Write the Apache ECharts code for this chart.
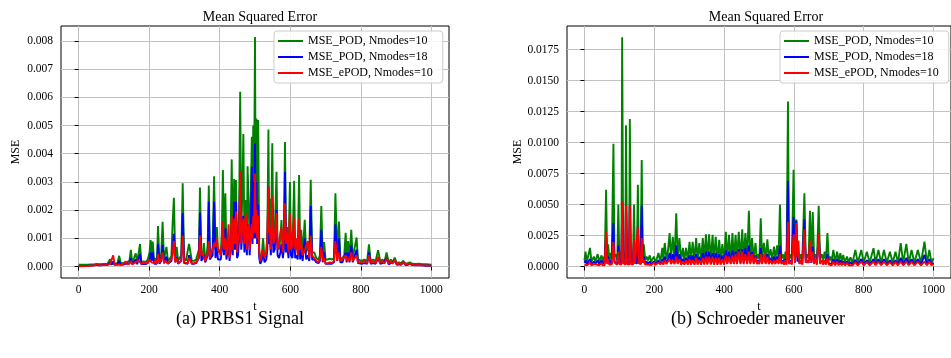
<!DOCTYPE html>
<html>
<head>
<meta charset="utf-8">
<script src="https://cdn.jsdelivr.net/npm/echarts@6/dist/echarts.min.js"></script>
<style>
  html, body { margin: 0; padding: 0; background: #fff; }
  #chart { width: 951px; height: 358px; }
</style>
</head>
<body>
<div id="chart"></div>
<script>
// MSE values are stored in units of 1e-4
const UNIT = 1e-4;

// (a) PRBS1 Signal
const T_A = [0,25,45,52,58,70,82,89,93,98, 102,110,115,119,126,133,138,144,148,152, 157,162,166,170,174,178,184,190,196,201,
  204,207,210,214,218,222,225,229,234,238, 242,246,249,253,258,263,266,270,274,278, 282,287,291,295,299,304,309,313,317,321,
  327,333,338,341,344,348,352,355,359,363, 366,369,372,376,380,384,388,392,395,399, 403,406,409,412,416,419,422,425,428,431,
  434,437,441,443,446,449,452,455,458,461, 464,467,470,474,477,479,482,485,488,491, 493,495,497,500,502,504,506,509,512,515,
  519,523,527,532,535,538,540,542,545,549, 552,556,561,564,568,572,575,579,582,585, 588,591,595,599,602,606,611,614,618,621,
  625,628,631,635,641,645,650,654,658,662, 668,674,680,684,688,692,696,700,706,712, 718,724,728,733,738,742,748,753,757,760,
  764,768,773,777,782,788,792,797,803,810, 818,823,828,835,842,849,855,862,867,873, 879,885,890,896,902,908,914,920,927,933,
  939,946,955,965,975,985,1000];
const POD10_A = [0.7,0.7,0.8,0.9,0.8,0.9,1.0,2.6,1.0,1.5, 1.0,1.2,3.8,1.2,1.3,1.4,1.2,2.0,5.9,1.5, 3.0,4.7,1.5,2.0,8.0,1.5,1.8,1.6,2.5,5.0,
  9.4,4.0,8.9,2.0,3.0,2.0,14.4,2.2,4.0,15.9, 2.5,3.0,7.0,2.0,2.5,3.5,14.0,24.4,3.0,7.0, 2.0,2.5,4.0,29.5,3.0,2.0,2.0,8.0,8.0,2.0,
  2.0,2.5,3.0,6.0,28.0,4.0,3.0,8.3,3.0,4.0, 8.0,28.7,5.0,4.0,7.0,32.0,6.0,14.0,5.0,6.0, 5.0,12.0,34.2,8.0,26.0,5.0,6.0,10.0,4.0,12.0,
  38.0,8.0,31.0,10.0,30.7,6.0,8.0,20.0,62.0,12.0, 25.0,47.0,10.0,23.6,8.0,35.6,22.5,8.0,25.0,46.0, 15.0,50.0,20.0,81.4,20.0,52.5,15.0,52.0,6.0,2.0,
  4.0,10.0,3.0,5.0,12.0,48.6,15.0,24.0,8.0,43.7, 10.0,12.0,33.6,8.0,6.0,10.0,16.5,6.0,12.0,44.2, 10.0,14.0,6.0,30.0,8.0,6.0,30.4,6.0,8.0,5.0,
  32.5,5.0,13.0,4.0,16.6,5.0,8.0,4.0,30.8,5.0, 5.0,3.0,2.5,4.0,21.5,3.0,8.7,2.5,2.5,2.8, 2.5,3.0,26.0,4.0,16.0,3.0,3.0,4.0,12.0,3.0,
  9.0,3.0,13.0,3.0,3.5,10.3,2.5,2.5,2.0,2.5, 2.0,7.9,2.0,2.5,2.0,5.8,2.0,2.5,1.5,5.0, 1.5,2.5,1.5,3.2,1.2,1.5,1.2,2.0,1.0,1.2,
  1.5,1.0,0.9,1.0,0.8,0.8,0.7];
const POD18_A = [0.2,0.3,0.4,0.6,0.4,0.5,0.6,1.5,0.6,1.8, 0.6,0.8,2.0,0.6,0.7,1.0,0.8,1.2,3.0,0.8, 1.5,2.6,0.8,1.2,4.5,0.8,1.0,0.9,1.2,2.5,
  5.0,2.0,5.0,1.0,1.5,1.0,8.0,1.0,2.0,7.7, 1.2,1.5,3.5,1.0,1.2,2.0,5.0,11.6,1.5,3.5, 1.0,1.2,2.0,18.9,1.2,1.0,1.0,4.0,4.0,1.0,
  1.0,1.2,1.5,3.0,19.1,2.0,1.5,4.0,1.5,2.0, 4.0,23.0,2.5,2.0,4.0,23.0,3.0,7.0,2.5,3.0, 2.5,6.0,14.6,4.0,13.6,2.5,3.0,8.0,2.0,6.0,
  14.0,4.0,23.0,6.0,23.0,3.0,4.0,10.0,33.6,6.0, 12.0,18.0,5.0,12.0,4.0,15.0,12.0,4.0,13.0,35.4, 8.0,30.0,10.0,43.7,10.0,30.0,8.0,22.0,3.0,1.0,
  2.0,5.0,1.5,2.5,6.0,28.3,8.0,10.0,4.0,22.0, 5.0,6.0,20.0,4.0,3.0,5.0,8.0,3.0,6.0,33.6, 5.0,8.0,3.0,14.0,4.0,3.0,12.0,3.0,4.0,2.5,
  13.0,2.5,7.0,2.0,10.0,2.5,4.0,2.0,21.5,2.5, 2.5,1.5,1.2,2.0,13.0,1.5,5.0,1.0,1.0,1.0, 1.0,1.5,15.0,2.0,10.0,1.5,1.5,2.0,5.0,1.5,
  5.0,1.5,7.5,1.5,1.5,6.0,1.2,1.2,1.0,1.2, 1.0,5.0,1.0,1.2,1.0,3.0,1.0,1.2,0.8,3.0, 0.8,1.2,0.8,2.0,0.6,0.8,0.6,1.5,0.5,0.6,
  1.0,0.5,0.4,0.5,0.4,0.3,0.3];
const EPOD10_A = [0.1,0.2,0.4,0.9,0.4,0.5,0.5,1.0,0.5,4.0, 0.6,0.7,1.2,0.6,0.8,1.8,0.8,1.0,2.0,0.8, 1.2,1.5,1.0,2.2,2.5,0.9,1.4,1.0,1.5,2.5,
  3.0,1.5,2.0,1.2,2.2,1.0,4.5,1.4,2.5,5.0, 1.2,2.0,2.5,1.0,1.5,2.6,4.0,9.0,1.5,3.0, 1.2,1.5,2.0,11.0,1.5,1.0,1.2,3.0,2.0,1.0,
  1.2,1.5,2.5,4.0,11.0,4.0,5.0,3.0,2.0,3.5, 5.0,9.0,3.0,5.0,6.0,8.4,7.0,10.0,6.0,5.0, 4.0,8.0,16.0,6.0,10.0,4.0,8.0,15.0,3.0,5.0,
  18.3,6.0,17.0,8.0,19.5,5.0,10.0,12.0,33.6,8.0, 14.0,17.0,8.0,19.0,6.0,12.0,15.0,6.0,12.0,15.0, 10.0,18.0,12.0,33.0,12.0,20.0,10.0,18.0,5.0,2.0,
  4.0,6.0,3.0,5.0,10.0,28.3,12.0,14.0,6.0,24.8, 8.0,10.0,19.0,6.0,8.0,12.0,14.0,5.0,10.0,22.4, 8.0,12.0,5.0,18.7,6.0,8.0,17.0,6.0,10.0,4.0,
  17.0,6.0,8.0,4.0,6.0,6.0,9.0,3.0,11.0,4.0, 3.0,2.0,1.5,3.0,7.0,2.0,3.0,1.0,1.2,1.5, 1.2,2.0,9.0,2.0,5.0,2.0,2.5,3.0,4.0,2.0,
  3.0,2.0,5.0,2.0,2.5,4.0,1.5,2.0,1.5,2.0, 1.2,4.0,1.2,2.0,1.2,3.5,1.2,2.0,1.0,2.8, 1.0,2.0,1.0,2.3,0.8,1.2,0.8,1.5,0.7,1.0,
  1.0,0.6,0.5,0.6,0.4,0.4,0.3];

// (b) Schroeder maneuver
const T_B = [0,3,7,11,16,20,24,27,31,35, 38,42,46,49,52,55,58,62,65,68, 71,74,78,83,86,90,94,97,100,104,
  106,108,111,114,117,119,122,125,128,130, 133,136,139,142,145,148,150,153,156,159, 161,164,167,170,174,178,182,187,191,195,
  199,203,207,212,216,219,223,226,230,235, 239,244,248,253,258,263,267,272,277,282, 286,291,296,301,305,310,315,320,324,329,
  334,339,343,348,352,357,362,367,371,376, 381,386,390,395,400,405,409,414,419,424, 428,433,437,442,447,452,456,461,466,471,
  475,480,485,490,494,497,501,505,509,514, 519,524,528,533,538,543,547,552,556,560, 564,568,572,576,579,583,586,590,594,599,
  603,607,610,613,616,620,624,630,634,638, 642,646,650,654,658,662,666,671,675,680, 684,688,692,696,700,704,708,713,718,724,
  728,733,737,741,746,752,757,762,768,776, 783,793,800,809,817,828,834,842,850,858, 866,875,883,891,898,906,913,922,929,937,
  945,955,964,974,981,988,994,1000];
const POD10_B = [5,12,4,5,15,4,5,8,4,5, 10,4,5,9,4,8,4,62,6,18, 5,11,5,99,8,10,5,50,6,12,
  5,185,8,12,5,114,6,10,5,119, 6,11,5,50,6,12,5,66,6,12, 5,86,8,18,5,8,5,9,4,6,
  8,4,6,11,5,7,15,5,19,6, 12,27,6,24,6,43,6,23,5,15, 5,15,5,20,5,20,5,23,5,19,
  5,23,5,26,5,26,5,25.5,5,24, 5,21.5,5,18,5,28,5,25.5,5,27, 5,25.5,6,28,6,30,6,27,6,45,
  6,23,6,19,6,10,6,39,6,19, 6,22,6,14,6,16,6,17,6,50, 6,10,5,12,5,133,6,10,5,78,
  6,38,8,10,5,10,5,59,6,10, 6,45,6,44,6,10,5,49,6,10, 5,12,5,27,5,8,4,13.4,4,12,
  4,10.7,4,9.4,3.5,8,3.5,7.5,3,13.4, 3,13.4,3,12,3,14.8,3,13.4,3,13.4, 3,12,3,12,3,18.8,3,18.2,3,13.4,
  3,13.4,3,20,3,13.4,3,6.7];
const POD18_B = [3,5,2,3,6,2,2,4,2,2, 5,2,3,5,2,4,2,25,3,8, 2,5,2,35,4,5,2,17,3,6,
  2,52,4,5,2,49,3,5,2,49, 3,5,2,22,3,5,2,32,3,6, 2,49,4,8,2,4,2,4,2,3,
  4,2,3,5,2,3,6,2.5,8,3, 5,11,3,10,3,17,3,10,2.5,6, 2.5,7,2.5,9,2.5,9,2.5,10,2.5,8,
  2.5,11,2.5,12,2.5,12,2.5,11,2.5,11, 2.5,10,2.5,9,2.5,13,2.5,12,2.5,13, 2.5,12,3,14,3,14,3,15,3,17,
  3,12,3,9,3,5,3,15,3,9, 3,10,3,7,3,8,3,8,3,17, 3,5,2.5,6,2.5,69,3,5,2.5,40,
  3,37,4,6,2.5,5,2.5,38,3,5, 3,16,3,16,3,5,2.5,27,3,5, 2.5,5,2.5,10,2.5,4,2,6,2,6,
  2,5,2,4,1.8,4,1.8,3.5,1.5,5.4, 1.5,6,1.5,5,1.5,6,1.5,6,1.5,6, 1.5,5,1.5,5,1.5,7,1.5,7,1.5,6,
  1.5,6,1.5,9.4,1.5,6,1.5,3];
const EPOD10_B = [1.5,3,1,1.5,3,1,1.5,2,1,1.5, 3,1,2,3,1,2,1,28,2,6, 1.5,3,1.5,20,3,3,1.5,12,2,3,
  1.5,52,3,3,1.5,49,2,3,1.5,49, 2,3,1.5,22,2,3,1.5,32,2,4, 1.5,23,3,5,1.5,2,1.5,2.5,1.2,2,
  3,1.2,2,3,1.5,2,4,1.5,5,2, 4,6,2,5,2,8,2,6,1.5,4, 1.5,5,1.5,6,1.5,5,1.5,7,1.5,5,
  1.5,7,1.5,8,1.5,8,1.5,8,1.5,7, 1.5,7,1.5,6,1.5,9,2,8,2,9, 2,10,2,12,2,12,2,10,2,12,
  2,10,2,8,2,4,2,10,2,10, 2,8,2,5,2,5,2,6,2,10, 2,4,1.5,5,1.5,36,2,4,1.5,26,
  3,35,8,21,2,5,1.5,30,3,5, 3,21,3,12,2,6,1.5,27,2,5, 1.5,5,1.5,7,1.5,3,1,4,1,4,
  1,3,1,3,1,3,1,2.5,1,3.5, 1,4,1,3.5,1,4,1,4,1,4, 1,3.5,1,3.5,1,4,1,4,1,4,
  1,4,1,4,1,4,1,2];

const X_TICKS = [0, 200, 400, 600, 800, 1000];
const Y_TICKS_A = [0, 0.001, 0.002, 0.003, 0.004, 0.005, 0.006, 0.007, 0.008];
const Y_TICKS_B = [0, 0.0025, 0.005, 0.0075, 0.01, 0.0125, 0.015, 0.0175];

const NAMES = ['MSE_POD, Nmodes=10', 'MSE_POD, Nmodes=18', 'MSE_ePOD, Nmodes=10'];
const COLORS = ['#008000', '#0000ff', '#ff0000'];

const FONT = '"Liberation Serif", "Times New Roman", serif';

function pairs(ts, vs) {
  return ts.map((t, i) => [t, vs[i] * UNIT]);
}

function xAxis(gridIndex) {
  return {
    gridIndex, type: 'value', min: -50, max: 1050,
    name: 't', nameLocation: 'middle', nameGap: 20,
    nameTextStyle: { fontFamily: FONT, fontSize: 12, color: '#000' },
    axisLine: { show: false },
    axisTick: { show: true, length: 4, customValues: X_TICKS, lineStyle: { color: '#000', width: 1 } },
    axisLabel: { customValues: X_TICKS, margin: 6, fontFamily: FONT, fontSize: 11.5, color: '#000',
      formatter: v => String(v) },
    splitLine: { show: true, lineStyle: { color: '#c2c2c2', width: 1 } }
  };
}

function yAxis(gridIndex, min, max, ticks, digits) {
  return {
    gridIndex, type: 'value', min, max,
    name: 'MSE', nameLocation: 'middle', nameGap: 39, nameRotate: 90,
    nameTextStyle: { fontFamily: FONT, fontSize: 12, color: '#000' },
    axisLine: { show: false },
    axisTick: { show: true, length: 4, customValues: ticks, lineStyle: { color: '#000', width: 1 } },
    axisLabel: { customValues: ticks, margin: 8, fontFamily: FONT, fontSize: 11.5, color: '#000',
      formatter: v => v.toFixed(digits) },
    splitLine: { show: true, lineStyle: { color: '#c2c2c2', width: 1 } }
  };
}

function lineSeries(k, xi, ts, vs) {
  return {
    type: 'line', name: NAMES[k], xAxisIndex: xi, yAxisIndex: xi,
    data: pairs(ts, vs), symbol: 'none', showSymbol: false, animation: false,
    lineStyle: { color: COLORS[k], width: 1.9 }, itemStyle: { color: COLORS[k] },
    z: 2 + k
  };
}

function legend(left) {
  return {
    left, top: 31, orient: 'vertical', data: NAMES,
    icon: 'rect', itemWidth: 25, itemHeight: 2, itemGap: 4,
    padding: [4, 10, 4, 4],
    backgroundColor: 'rgba(255,255,255,0.85)', borderColor: '#cccccc', borderWidth: 1, borderRadius: 3,
    textStyle: { fontFamily: FONT, fontSize: 12, color: '#000' },
    selectedMode: false
  };
}

const chart = echarts.init(document.getElementById('chart'), null, { renderer: 'canvas' });
chart.setOption({
  backgroundColor: '#ffffff',
  animation: false,
  title: [
    { text: 'Mean Squared Error', left: 255, top: 5, textAlign: 'center',
      textStyle: { fontFamily: FONT, fontSize: 14, fontWeight: 'normal', color: '#000' } },
    { text: 'Mean Squared Error', left: 761, top: 5, textAlign: 'center',
      textStyle: { fontFamily: FONT, fontSize: 14, fontWeight: 'normal', color: '#000' } }
  ],
  grid: [
    { left: 61, top: 26, width: 388, height: 252, show: true, borderColor: '#000', borderWidth: 1, backgroundColor: 'transparent' },
    { left: 567, top: 26, width: 388, height: 252, show: true, borderColor: '#000', borderWidth: 1, backgroundColor: 'transparent' }
  ],
  xAxis: [xAxis(0), xAxis(1)],
  yAxis: [
    yAxis(0, -0.000406, 0.00853, Y_TICKS_A, 3),
    yAxis(1, -0.000925, 0.0194, Y_TICKS_B, 4)
  ],
  legend: [legend(274), legend(780)],
  series: [
    lineSeries(0, 0, T_A, POD10_A),
    lineSeries(1, 0, T_A, POD18_A),
    lineSeries(2, 0, T_A, EPOD10_A),
    lineSeries(0, 1, T_B, POD10_B),
    lineSeries(1, 1, T_B, POD18_B),
    lineSeries(2, 1, T_B, EPOD10_B)
  ],
  graphic: [
    { type: 'text', x: 240, y: 319, style: { text: '(a) PRBS1 Signal', textAlign: 'center', textVerticalAlign: 'middle',
      font: '18px ' + FONT, fill: '#000' } },
    { type: 'text', x: 758, y: 319, style: { text: '(b) Schroeder maneuver', textAlign: 'center', textVerticalAlign: 'middle',
      font: '18px ' + FONT, fill: '#000' } }
  ]
});
</script>
</body>
</html>
